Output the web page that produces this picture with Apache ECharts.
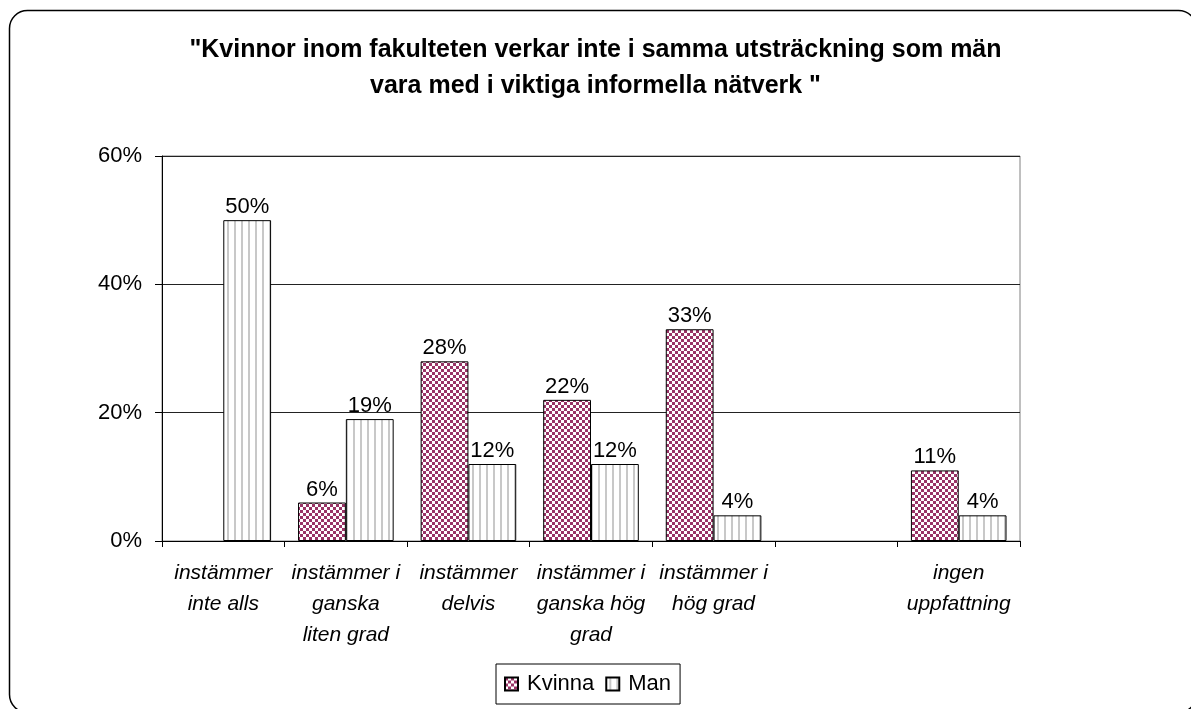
<!DOCTYPE html>
<html>
<head>
    <meta charset="UTF-8">
    <title>nätverk</title>
    <script src="https://cdn.jsdelivr.net/npm/echarts@6/dist/echarts.min.js"></script>
    <style>
        html, body { margin: 0; padding: 0; background: #fff; }
        #main { width: 1191px; height: 709px; }
    </style>
</head>
<body>
<div id="main"></div>
<script type="text/javascript">
    // svarsalternativ (6:e kolumnen är tom i originalet)
    var categories = ['instämmer\ninte alls', 'instämmer i\nganska\nliten grad', 'instämmer\ndelvis',
        'instämmer i\nganska hög\ngrad', 'instämmer i\nhög grad', '', 'ingen\nuppfattning'];
    var kvinna = [null, 6, 28, 22, 33, null, 11];
    var man = [50, 19, 12, 12, 4, null, 4];
    var yTicks = [0, 20, 40, 60];

    var font = "'Liberation Sans', Arial, sans-serif";

    // rutmönster för Kvinna
    function checker() {
        var c = document.createElement('canvas');
        c.width = 6; c.height = 6;
        var g = c.getContext('2d');
        g.fillStyle = '#ffffff';
        g.fillRect(0, 0, 6, 6);
        g.fillStyle = '#993366';
        g.fillRect(0, 0, 3, 3);
        g.fillRect(3, 3, 3, 3);
        return c;
    }
    // lodräta streck för Man
    function stripes() {
        var c = document.createElement('canvas');
        c.width = 7; c.height = 4;
        var g = c.getContext('2d');
        g.fillStyle = '#ffffff';
        g.fillRect(0, 0, 7, 4);
        g.fillStyle = '#c8c8c8';
        g.fillRect(3, 0, 2, 4);
        return c;
    }

    var myChart = echarts.init(document.getElementById('main'));
    var option = {
        backgroundColor: '#fff',
        animation: false,
        textStyle: { fontFamily: font },
        title: {
            text: '"Kvinnor inom fakulteten verkar inte i samma utsträckning som män\nvara med i viktiga informella nätverk "',
            left: 'center',
            top: 27,
            textStyle: { fontFamily: font, fontWeight: 'bold', fontSize: 25, lineHeight: 36, color: '#000' }
        },
        graphic: [{
            type: 'rect',
            shape: { x: 9.5, y: 10.5, width: 1187, height: 702, r: 18 },
            style: { fill: 'none', stroke: '#000', lineWidth: 1.5 },
            silent: true
        }],
        legend: {
            left: 496,
            top: 664,
            orient: 'horizontal',
            padding: [9, 9, 9, 8],
            borderColor: '#000',
            borderWidth: 1,
            itemWidth: 13,
            itemHeight: 13,
            itemGap: 11,
            icon: 'rect',
            textStyle: { fontFamily: font, fontSize: 22, color: '#000', padding: [0, 0, 0, 4] },
            data: ['Kvinna', 'Man']
        },
        grid: {
            left: 162, right: 171, top: 156, bottom: 168,
            show: true, borderColor: '#808080', borderWidth: 1
        },
        xAxis: {
            type: 'category',
            data: categories,
            axisLine: { lineStyle: { color: '#000', width: 1 } },
            axisTick: { show: true, length: 6, lineStyle: { color: '#000' } },
            axisLabel: {
                interval: 0, margin: 17, fontFamily: font, fontSize: 21, fontStyle: 'italic',
                lineHeight: 31, color: '#000'
            }
        },
        yAxis: {
            type: 'value',
            min: yTicks[0],
            max: yTicks[yTicks.length - 1],
            interval: 20,
            axisLine: { show: true, lineStyle: { color: '#000', width: 1 } },
            axisTick: { show: true, length: 7, lineStyle: { color: '#000' } },
            axisLabel: { formatter: '{value}%', margin: 20, fontFamily: font, fontSize: 22, color: '#000' },
            splitLine: { show: true, lineStyle: { color: '#222', width: 1 } }
        },
        series: [{
            name: 'Kvinna',
            type: 'bar',
            data: kvinna,
            barGap: '0%',
            barCategoryGap: '22%',
            itemStyle: { color: { image: checker(), repeat: 'repeat' }, borderColor: '#000', borderWidth: 1 },
            label: { show: true, position: 'top', distance: 2, formatter: '{c}%', fontFamily: font, fontSize: 22, color: '#000' }
        }, {
            name: 'Man',
            type: 'bar',
            data: man,
            barGap: '0%',
            barCategoryGap: '22%',
            itemStyle: { color: { image: stripes(), repeat: 'repeat' }, borderColor: '#000', borderWidth: 1 },
            label: { show: true, position: 'top', distance: 2, formatter: '{c}%', fontFamily: font, fontSize: 22, color: '#000' }
        }]
    };
    myChart.setOption(option);
</script>
</body>
</html>
